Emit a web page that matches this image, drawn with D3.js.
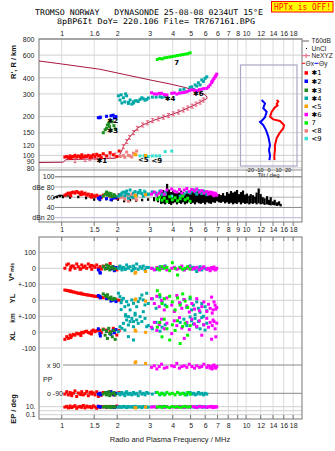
<!DOCTYPE html>
<html><head><meta charset="utf-8">
<script src="https://cdn.jsdelivr.net/npm/d3@7"></script>
<style>body{margin:0;background:#fff;}svg{display:block;}</style>
</head><body>
<svg id="c" width="335" height="451"></svg>
<script>
// ---------- axis ticks / labels ----------
const freqTicks = [1,1.5,2,3,4,5,6,7,8,9,10,12,14,16,18];
const topLabels = ["1","1.6","2","3","4","5","6","6","7","8","10","12","14","16","18"];
const midLabels = ["1","1.5","2","3","4","5","6","7","8","9","10","12","14","16","18"];
const botLabels = ["1","1.5","2","3","4","5","6","7","8","","10","12","14","16","18"];
const heightTicks = [800,600,400,300,200,150,120,100,90,80];
const dbTicks = [100,80,60,40,20];
const dbLabels = ["100","dBe 80","60","40","dBn 20"];
const tiltTicks = [-20,-10,0,10,20];
const tiltLabels = ["-20","-10","0","10","20"];

// ---------- profile (virtual / true height) [f MHz, h km] ----------
const profileLine = [[0.753,540],[1,512],[1.61,466],[3.01,385],[3.87,358],[4.6,338],[5.29,320],[5.75,305],[6.05,292],[6.15,282],[6.1,274],
 [5.86,268],[5.63,259],[5.35,250],[5.10,241],[4.82,233],[4.57,225],[4.30,217],[4.03,210],[3.56,198],[3.11,186],[2.75,172],
 [2.57,162],[2.45,150],[2.33,138],[2.25,128],[2.16,117],[2.10,106],[2.04,98],[1.95,95],[1.5,94],[1.05,92.5],[1.02,88.5],[0.753,88]];
const neXYZ = [[2.16,117],[2.25,128],[2.33,138],[2.45,150],[2.57,162],[2.75,172],[2.92,179],[3.11,186],[3.34,192],[3.56,198],
 [3.79,204],[4.03,210],[4.30,217],[4.57,225],[4.82,233],[5.10,241],[5.35,250],[5.63,259],[5.86,269],
 [1.18,91],[1.34,93],[1.42,95],[1.52,96],[1.61,96.5],[1.72,97.5],[1.83,98.8],[1.95,100.5]];

// ---------- tilt profiles [deg, h km] ----------
const thetaX = [[8.6,269],[10.3,262],[8.6,250],[9.5,244],[6.8,236],[3.4,218],[1.6,200],[5.1,190],[12.1,185],[16.3,172],[15.6,162],[11.4,148],[8.6,136],[6.8,120],[6.8,110],[6.1,99],[6.3,92]];
const thetaY = [[-7.2,269],[-3.7,253],[-5.5,232],[-1.9,218],[-3.7,198],[-7.2,185],[-8.9,182],[-5.5,172],[-2.6,157],[-0.2,140],[1.6,120],[0.5,110],[1.6,100],[1,92]];

// ---------- echo clusters: [f, R' km, amp dB, V* m/s, YL km, XL km, PP deg, EP deg] ----------
const c1 = [[1.04,97,64,0,64,-46,-95,8],[1.065,98,66,21,62,-29,-80,12],[1.086,96,68,27,60,-40,-100,5],[1.11,99,67,-10,56,-19,-85,15],
 [1.133,97,69,14,54,-25,-105,6],[1.156,98,70,14,52,-15,-90,10],[1.18,100,68,0,50,-20,-75,18],[1.206,97,71,27,47,-8,-110,4],
 [1.23,99,69,10,44,-12,-88,9],[1.258,98,67,-6,42,-10,-95,12],[1.284,101,70,21,40,-2,-80,7],[1.31,97,66,6,38,-5,-100,20],
 [1.338,99,68,14,36,2,-92,5],[1.366,98,64,0,34,5,-78,14],[1.394,100,66,27,33,-3,-105,8],[1.424,96,62,10,31,-8,-85,11],
 [1.454,99,65,-6,29,5,-95,6],[1.484,101,63,14,27,12,-88,16],[1.515,98,61,6,25,2,-100,9],[1.548,102,64,21,24,8,-80,4],
 [1.58,99,60,0,22,12,-110,13],[1.613,100,62,10,20,10,-90,7],[1.68,103,64,14,16,18,-85,10],[1.755,99,66,0,12,12,-95,6],
 [1.83,105,62,30,12,2,-80,12],[1.905,101,60,0,5,23,-100,8],[1.99,98,58,-10,2,-19,-90,15],[2.05,108,65,8,0,10,-85,9],
 [1.12,95,63,5,58,-35,-92,7],[1.27,96,65,-3,45,-22,-98,9],[1.45,97,60,18,30,-12,-82,6],[1.64,96,59,-5,18,-4,-102,10]];
const c2 = [[1.58,196,58,-10,30,20,-95,12],[1.61,196,56,-25,25,-10,-90,8],[1.62,198,60,-30,15,-25,-100,10],[1.75,201,57,0,10,5,-85,9],
 [1.85,203,55,-5,-5,-15,-80,7],[1.9,205,58,10,0,10,-95,11],[1.93,195,62,-15,5,-5,-100,6],[1.97,200,59,5,-8,15,-90,9]];
const c3 = [[1.68,150,62,10,40,15,-95,8],[1.72,158,66,-5,30,-20,-85,10],[1.75,162,70,21,25,5,-100,12],[1.77,172,64,0,35,-40,-90,7],
 [1.8,177,68,14,15,23,-80,9],[1.82,167,63,-10,10,-10,-105,11],[1.85,157,67,5,20,0,-95,6],[1.88,182,61,10,5,-30,-90,10],
 [1.92,170,65,-5,12,10,-85,8],[1.95,160,62,0,8,-46,-100,9]];
const c4 = [[2.03,290,62,0,44,2,-90,8],[2.07,269,65,14,23,33,-100,10],[2.12,255,68,-10,2,23,-85,7],[2.16,280,70,6,12,54,-95,12],
 [2.2,260,63,-6,-40,12,-105,9],[2.25,290,72,21,-8,75,-80,6],[2.3,253,66,0,-29,44,-95,11],[2.35,269,74,10,-60,65,-90,8],
 [2.4,250,60,-15,2,85,-100,10],[2.45,260,68,14,-19,33,-85,7],[2.5,265,71,0,-81,106,-95,12],[2.55,265,64,27,-40,75,-90,9],
 [2.6,262,69,-6,-8,54,-105,8],[2.66,272,73,10,12,96,-80,10],[2.72,280,67,0,33,65,-95,6],[2.77,275,62,14,2,127,-90,11],
 [2.83,268,70,-10,-29,85,-100,9],[2.89,272,65,6,44,33,-85,8],[2.3,258,58,5,-102,-29,-95,9],[2.45,255,60,-5,-133,-50,-90,10],
 [2.1,295,64,3,-15,140,-92,8],[2.22,300,69,-4,-90,100,-88,9],
 [2.95,279,66,5,-20,40,-90,8],[3.1,283,70,0,10,20,-95,10],[3.25,283,68,-8,-50,60,-85,7],[3.41,285,72,10,20,5,-100,9],
 [3.5,282,65,0,-10,30,-90,11],[3.64,285,69,15,-30,45,-95,8],
 [4.39,322,62,5,-20,60,-95,9],[4.6,326,66,-10,5,80,-90,7],[4.77,312,70,0,-45,40,-100,10],[4.97,337,68,15,10,94,-85,8],
 [5.06,340,72,0,-60,70,-95,11],[5.18,326,74,6,-30,50,-90,9],[5.29,352,70,-6,-90,85,-100,7],[5.4,345,66,-20,-10,30,-95,10],
 [5.51,366,73,0,-50,65,-85,8],[5.63,352,70,10,-75,20,-95,12],[5.75,385,67,-10,-20,90,-90,9],[5.87,375,72,5,-100,45,-100,8],
 [5.99,396,69,0,-40,12,-90,10],[6.12,407,65,-5,-65,55,-95,7]];
const c5 = [[2.5,102,64,-31,2,12,105,6],[2.52,101,62,-25,8,5,110,5],[2.85,100,65,-20,-5,-2,100,8]];
const c6 = [[3.07,306,66,0,10,30,75,8],[3.18,300,70,-10,-20,60,85,10],[3.28,299,64,5,25,10,65,6],[3.38,303,68,-6,-40,45,80,12],
 [3.48,303,72,0,0,80,95,9],[3.6,296,66,10,-60,20,70,7],[3.72,294,74,-10,15,55,75,11],[3.95,303,76,0,-30,-10,85,8],
 [4.08,305,72,6,-70,70,80,10],[4.21,299,70,-6,30,40,100,6],[4.35,304,75,0,-15,90,70,12],[4.48,306,68,14,-50,25,80,9],
 [4.62,308,74,-10,5,-40,85,7],[4.77,312,77,0,-35,60,75,10],[4.92,318,71,10,-73,15,95,8],[5.08,322,75,-6,-20,80,80,11],
 [5.25,320,72,0,-55,50,70,9],[5.40,318,76,6,10,35,85,6],[5.58,324,70,-10,-65,70,75,12],[5.75,326,73,0,-40,-20,80,8],
 [5.9,330,68,10,-10,45,95,10],[6.12,331,71,-6,-70,85,75,7],[6.25,340,66,0,-25,30,85,9],[6.38,352,70,-15,-50,60,70,11],
 [6.5,368,67,5,20,-45,80,8],[6.62,385,65,0,-60,75,85,6],[6.79,407,68,-10,-30,20,75,10],[6.93,427,64,0,-45,55,80,9],
 [6.55,375,69,-4,-80,40,65,12],[6.7,395,63,8,-10,65,90,7],[6.85,415,66,-8,-55,-30,70,9]];
const c7 = [[3.3,555,56,0,60,30,-85,8],[3.4,565,60,-10,35,60,-95,10],[3.5,560,54,10,-20,-30,-90,7],[3.6,570,58,0,10,80,-100,12],
 [3.72,575,52,5,-40,20,-85,9],[3.85,580,61,-15,25,-50,-95,6],[3.98,585,55,35,-10,45,-90,11],[4.12,590,59,0,-60,10,-100,8],
 [4.25,596,53,-42,15,70,-85,10],[4.39,600,57,6,-30,-72,-95,7],[4.53,605,62,-6,40,35,-90,9],[4.67,610,55,0,-5,55,-100,12],
 [4.82,615,58,10,-45,-20,-85,8],[4.97,625,52,-5,20,40,-95,10]];
// clusters shown only on height & amplitude panels: [f, R' km, amp dB]
const c8 = [[2.16,100,60],[2.2,96.5,56],[2.25,106,64],[2.3,100,52],[2.35,99,62],[2.45,104,58],[2.55,108,55],[2.4,97,66],[2.08,98,59]];
const c9 = [[2.66,99,68],[2.8,99,72],[2.95,98,66],[3.1,99,70],[3.25,99,64],[3.4,99,68],[3.64,107,66],[3.95,108,62]];

// ---------- unclassified amplitude spread [f, low dB, high dB] ----------
const unCl = [[0.908,57,60],[0.943,58,62],[0.979,60,64],[1.016,58,63],[1.11,57,62],[1.23,58,63],[1.355,56,61],[1.5,53,58],[1.61,52,57],
 [1.74,54,59],[1.87,52,56],[2.02,53,58],[2.18,50,55],[2.35,52,57],[2.53,51,56],[2.73,52,57],[2.94,53,58],[3.17,52,60],[3.33,50,62],[3.46,47,70],
 [3.55,48,74],[3.64,46,72],[3.73,50,86],[3.82,47,75],[3.92,45,70],[4.02,48,72],[4.12,50,68],[4.22,46,71],[4.33,49,69],[4.44,47,73],
 [4.55,50,70],[4.66,46,66],[4.78,48,69],[4.90,51,67],[5.03,47,70],[5.15,49,72],[5.28,46,68],[5.42,50,71],[5.55,48,73],[5.69,47,69],
 [5.84,49,72],[5.99,46,70],[6.14,50,68],[6.29,48,71],[6.45,47,66],[6.62,50,69],[6.78,49,64],[6.95,52,62],[7.13,50,66],[7.31,49,64],
 [7.50,51,68],[7.69,48,63],[7.88,50,70],[8.08,47,67],[8.28,49,72],[8.49,46,69],[8.71,48,71],[8.93,47,74],[9.15,50,66],[9.38,46,70],
 [9.62,49,73],[9.87,47,65],[10.1,48,67],[10.4,46,63],[10.6,48,66],[10.9,47,64],[11.2,49,61],[11.4,46,69],[11.7,48,77],[12.0,46,66],
 [12.3,47,60],[12.6,45,58],[13.0,46,62],[13.3,45,55],[13.6,44,60],[14.0,45,52],[14.3,44,55],[14.7,43,50],[15.1,44,52],[15.4,42,47]];

// ---------- legend & cluster tags ----------
const clusterNames = ["✱1","✱2","✱3","✱4","<5","✱6","7","<8","<9"];
const clusterColors = ["#ff0000","#0000ff","#1e8c1e","#00a8a8","#ffa000","#ff00ff","#00f000","#f08080","#38e0d0"];
const clusterTags = [["✱1",1.65,92],["✱2",1.89,186],["✱3",1.89,155],["✱4",3.87,277],["<5",2.77,93],["✱6",5.51,303],["<9",3.28,92],["7",4.2,530]];

// ================= drawing =================
const FONT = "'Liberation Sans', Arial, sans-serif";
const MONO = "'DejaVu Sans Mono', 'Liberation Mono', monospace";
const svg = d3.select("#c");
const X0 = 39, X1 = 302;
const x = d3.scaleLog().domain([0.753, 20.1]).range([X0, X1]);
const yH = d3.scaleLog().domain([77, 800]).range([170, 39]);
const yDb = d3.scaleLinear().domain([20, 100]).range([217.7, 176.7]);
const yV = d3.scaleLinear().domain([-100, 100]).range([284.3, 252.3]);
const yYL = d3.scaleLinear().domain([-100, 100]).range([316.3, 284.3]);
const yXL = d3.scaleLinear().domain([-100, 100]).range([348, 316]);
const yPP = d3.scaleLinear().domain([-90, 90]).range([393.3, 365]);
const yEP = d3.scaleLog().domain([0.1, 10]).range([414.7, 406.7]);
const xT = d3.scaleLinear().domain([-30, 30]).range([240, 297]);

const g = svg.append("g");
// vertical grid
[[39,222],[237,419]].forEach(([a,b]) => {
  g.selectAll(null).data(freqTicks).enter().append("line")
    .attr("x1", d => x(d)).attr("x2", d => x(d)).attr("y1", a).attr("y2", b)
    .attr("stroke", "#dcdcdc").attr("stroke-width", 1);
});
// height grid
g.selectAll(null).data(heightTicks).enter().append("line")
  .attr("x1", X0).attr("x2", X1).attr("y1", d => yH(d)).attr("y2", d => yH(d))
  .attr("stroke", d => d === 800 ? "#999" : "#cfcfcf").attr("stroke-width", 1);
// dB grid
g.selectAll(null).data(dbTicks).enter().append("line")
  .attr("x1", 55).attr("x2", X1).attr("y1", d => yDb(d)).attr("y2", d => yDb(d))
  .attr("stroke", d => d === 20 ? "#b4b4dc" : (d === 40 ? "#8a8a8a" : (d === 100 ? "#999" : "#b0b0b0")))
  .attr("stroke-width", d => d === 100 ? 1.5 : 1);
// lower panel grid
const lowLines = [yV(100), yV(0), yV(-100), yYL(0), yYL(-100), yXL(0), yXL(-100), yEP(10), yEP(1), yEP(0.1)];
g.selectAll(null).data(lowLines).enter().append("line")
  .attr("x1", X0).attr("x2", X1).attr("y1", d => d).attr("y2", d => d)
  .attr("stroke", "#d0d0d0").attr("stroke-width", 1);
g.selectAll(null).data([yPP(90), yPP(-90)]).enter().append("line")
  .attr("x1", 63).attr("x2", X1).attr("y1", d => d).attr("y2", d => d)
  .attr("stroke", "#888").attr("stroke-width", 1);

// frames
const fr = svg.append("g").attr("fill", "none").attr("stroke", "#8c8c8c");
fr.append("rect").attr("x", X0).attr("y", 39).attr("width", X1 - X0).attr("height", 222 - 39).attr("stroke-width", 1.2);
fr.append("line").attr("x1", X0).attr("x2", X1).attr("y1", 170).attr("y2", 170);
fr.append("rect").attr("x", X0).attr("y", 237).attr("width", X1 - X0).attr("height", 419 - 237).attr("stroke-width", 1.2);
[[237,241],[415,419],[222,226]].forEach(([a,b]) => {
  fr.selectAll(null).data(freqTicks).enter().append("line")
    .attr("x1", d => x(d)).attr("x2", d => x(d)).attr("y1", a).attr("y2", b).attr("stroke", "#777");
});

// inset box
svg.append("rect").attr("x", 240.5).attr("y", 65).attr("width", 56.5).attr("height", 101)
  .attr("fill", "none").attr("stroke", "#a8a8c4").attr("stroke-width", 1.2);

// profile line
const line = d3.line().x(d => x(d[0])).y(d => yH(d[1]));
svg.append("path").datum(profileLine).attr("d", line).attr("fill", "none").attr("stroke", "#a8193f").attr("stroke-width", 1);
const nx = svg.append("g").attr("stroke", "#e8607c").attr("stroke-width", 1);
neXYZ.forEach(d => {
  const px = x(d[0]), py = yH(d[1]);
  nx.append("line").attr("x1", px).attr("x2", px).attr("y1", py - 2).attr("y2", py + 2);
  nx.append("line").attr("x1", px - 1.5).attr("x2", px + 1.5).attr("y1", py - 2).attr("y2", py - 2);
  nx.append("line").attr("x1", px - 1.5).attr("x2", px + 1.5).attr("y1", py + 2).attr("y2", py + 2);
});

// tilt curves
const tline = d3.line().x(d => xT(d[0])).y(d => yH(d[1]));
svg.append("path").datum(thetaX).attr("d", tline).attr("fill", "none").attr("stroke", "#ff0000").attr("stroke-width", 2);
svg.append("path").datum(thetaY).attr("d", tline).attr("fill", "none").attr("stroke", "#0000ff").attr("stroke-width", 2);

// unclassified amplitude
svg.append("g").selectAll("line").data(unCl).enter().append("line")
  .attr("x1", d => x(d[0])).attr("x2", d => x(d[0])).attr("y1", d => yDb(d[1])).attr("y2", d => yDb(d[2]))
  .attr("stroke", "#000").attr("stroke-width", 2.2);
svg.append("path").datum(unCl.slice(0, 5)).attr("d", d3.line().x(d => x(d[0])).y(d => yDb(d[2])))
  .attr("fill", "none").attr("stroke", "#000").attr("stroke-width", 1.2);

// echo points
const full = [c1, c2, c3, c4, c5, c6, c7];
const panels = [[1, yH], [2, yDb], [3, yV], [4, yYL], [5, yXL], [6, yPP], [7, yEP]];
const pts = svg.append("g");
function sq(data, col, idx, ys) {
  pts.selectAll(null).data(data).enter().append("rect")
    .attr("x", d => x(d[0]) - 1.5).attr("y", d => ys(d[idx]) - 1.5)
    .attr("width", 3).attr("height", 3).attr("fill", col);
}
[c8, c9].forEach((c, k) => { sq(c, clusterColors[7 + k], 1, yH); sq(c, clusterColors[7 + k], 2, yDb); });
full.forEach((c, k) => panels.forEach(([idx, ys]) => sq(c, clusterColors[k], idx, ys)));

// cluster tags
svg.append("g").selectAll("text").data(clusterTags).enter().append("text")
  .attr("x", d => x(d[1])).attr("y", d => yH(d[2]) + 2.5).attr("text-anchor", "middle")
  .attr("font-family", "'DejaVu Sans', sans-serif").attr("font-size", 7).attr("font-weight", "bold").attr("fill", "#000")
  .text(d => d[0]);

// ---------- axes text ----------
function fAxis(y, labels) {
  const a = d3.axisBottom(x).tickValues(freqTicks).tickFormat((d, i) => labels[i]).tickSize(0);
  const ga = svg.append("g").attr("transform", `translate(0,${y})`).call(a);
  ga.select(".domain").remove();
  ga.selectAll("text").attr("y", 0).attr("dy", 0).attr("font-family", FONT).attr("font-size", 7).attr("fill", "#222");
}
fAxis(35.5, topLabels);
fAxis(231.5, midLabels);
fAxis(427.5, botLabels);

function yAxis(scale, vals, labels, xpos) {
  const a = d3.axisLeft(scale).tickValues(vals).tickFormat((d, i) => labels[i]).tickSize(0).tickPadding(0);
  const ga = svg.append("g").attr("transform", `translate(${xpos},0)`).call(a);
  ga.select(".domain").remove();
  ga.selectAll("text").attr("font-family", FONT).attr("font-size", 7).attr("fill", "#222");
}
yAxis(yH, heightTicks, heightTicks.map(String), 34.5);
yAxis(yDb, dbTicks, dbLabels, 54.5);
yAxis(yV, [100, 0, -100], ["100", "0", "+-100"], 36);
yAxis(yYL, [0, -100], ["0", "+-100"], 36);
yAxis(yXL, [0, -100], ["0", "-100"], 36);
yAxis(yEP, [10, 0.1], ["10.", "0.1"], 35.5);

// inset axis
const ta = d3.axisBottom(xT).tickValues(tiltTicks).tickFormat((d, i) => tiltLabels[i]).tickSize(0);
const gta = svg.append("g").attr("transform", "translate(0,171.5)").call(ta);
gta.select(".domain").remove();
gta.selectAll("text").attr("y", 0).attr("dy", 0).attr("font-family", FONT).attr("font-size", 5.6).attr("fill", "#222");
svg.append("text").attr("x", xT(0)).attr("y", 176.8).attr("text-anchor", "middle").attr("font-family", FONT)
  .attr("font-size", 5.8).attr("fill", "#222").text("Tilt / deg");

const tx = (t, xx, yy, opt = {}) => svg.append("text").attr("x", xx).attr("y", yy).attr("font-family", opt.f || FONT)
  .attr("font-size", opt.s || 7).attr("font-weight", opt.w || "normal").attr("fill", opt.c || "#222")
  .attr("text-anchor", opt.a || "start").text(t);
tx("x  90", 47, yPP(90) + 2.5);
tx("o -90", 47, yPP(-90) + 2.5);
tx("PP", 43, 381.8);

function rot(t, xx, yy, s, w) {
  svg.append("text").attr("transform", `translate(${xx},${yy}) rotate(-90)`).attr("text-anchor", "middle")
    .attr("font-family", FONT).attr("font-size", s).attr("font-weight", w || "bold").attr("fill", "#111").text(t);
}
rot("R', R / km", 15.5, 62, 7.5);
rot("YL", 15, 298.5, 7.5);
rot("km", 15, 318, 6.5);
rot("XL", 15, 336, 7.5);
rot("EP / deg", 15.5, 409, 7.5);
svg.append("text").attr("transform", "translate(13.5,272) rotate(-90)").attr("text-anchor", "middle")
  .attr("font-family", FONT).attr("fill", "#111").attr("font-weight", "bold")
  .call(t => { t.append("tspan").attr("font-size", 7.5).text("V*"); t.append("tspan").attr("font-size", 5).text(" m/s"); });

tx("Radio and Plasma Frequency / MHz", 170, 441.5, { a: "middle", s: 7.5 });

// title
svg.append("text").attr("x", 35).attr("y", 14.6).attr("font-family", MONO).attr("font-size", 7.8).attr("fill", "#000")
  .attr("textLength", 228).attr("lengthAdjust", "spacingAndGlyphs").attr("xml:space", "preserve")
  .text("TROMSO NORWAY   DYNASONDE 25-08-08 0234UT 15°E");
svg.append("text").attr("x", 57).attr("y", 23.5).attr("font-family", MONO).attr("font-size", 7.8).attr("fill", "#000")
  .attr("textLength", 198).attr("lengthAdjust", "spacingAndGlyphs")
  .text("8pBP6It DoY= 220.106 File= TR767161.BPG");
svg.append("rect").attr("x", 271.5).attr("y", 1.5).attr("width", 61.5).attr("height", 10.5).attr("fill", "#ffff00").attr("stroke", "#ff0000");
svg.append("text").attr("x", 274).attr("y", 10).attr("font-family", MONO).attr("font-size", 8).attr("fill", "#ff0000")
  .attr("textLength", 57).attr("lengthAdjust", "spacingAndGlyphs").text("HPTx is OFF!");

// legend
const LX = 306, LT = 311.5;
const lg = svg.append("g").attr("font-family", FONT).attr("font-size", 6.6).attr("fill", "#222");
lg.append("line").attr("x1", 302).attr("x2", 309).attr("y1", 41).attr("y2", 41).attr("stroke", "#999").attr("stroke-width", 1.5);
lg.append("text").attr("x", LT).attr("y", 43.3).text("T60dB");
lg.append("rect").attr("x", LX).attr("y", 48).attr("width", 1).attr("height", 1).attr("fill", "#000");
lg.append("text").attr("x", LT).attr("y", 50.7).text("UnCl");
lg.append("line").attr("x1", 302).attr("x2", 310).attr("y1", 55.7).attr("y2", 55.7).attr("stroke", "#e8607c");
lg.append("line").attr("x1", LX).attr("x2", LX).attr("y1", 53.5).attr("y2", 58).attr("stroke", "#e8607c");
lg.append("text").attr("x", LT).attr("y", 58.1).text("NeXYZ");
lg.append("line").attr("x1", 302).attr("x2", 305).attr("y1", 63.3).attr("y2", 63.3).attr("stroke", "#ff0000");
lg.append("text").attr("x", 305.5).attr("y", 65.7).text("Θx");
lg.append("line").attr("x1", 314.5).attr("x2", 318.5).attr("y1", 63.3).attr("y2", 63.3).attr("stroke", "#0000ff");
lg.append("text").attr("x", 319).attr("y", 65.7).text("Θy");
const ly = [72.7, 81, 90, 98, 106, 114.3, 122.7, 130.7, 138.3];
clusterNames.forEach((n, i) => {
  lg.append("rect").attr("x", LX - 1.5).attr("y", ly[i] - 1.5).attr("width", 3.5).attr("height", 3.5).attr("fill", clusterColors[i]);
  lg.append("text").attr("x", LT).attr("y", ly[i] + 2.5).attr("font-family", "'DejaVu Sans', sans-serif").attr("font-size", 6.8).attr("fill", "#000").text(n);
});
</script>
</body></html>
